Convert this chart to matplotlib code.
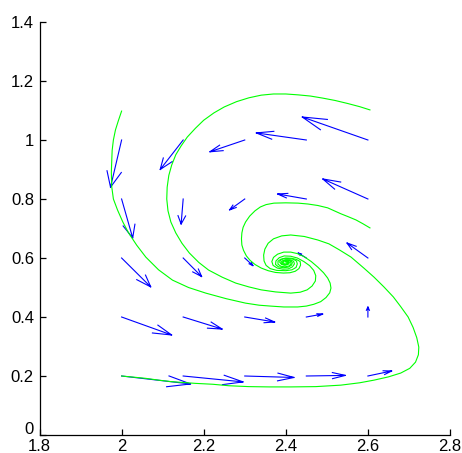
import numpy as np
import matplotlib
matplotlib.use("Agg")
import matplotlib.pyplot as plt
from matplotlib.transforms import ScaledTranslation

plt.rcParams['font.family'] = ['Liberation Sans', 'DejaVu Sans']

# Direction field sampled on a 5x5 grid
grid_x = [2.0, 2.15, 2.3, 2.45, 2.6]
grid_y = [0.2, 0.4, 0.6, 0.8, 1.0]
# rows follow grid_y, columns follow grid_x
field_u = [
    [0.168, 0.146, 0.120, 0.095, 0.058],
    [0.122, 0.095, 0.073, 0.040, 0.000],
    [0.071, 0.045, 0.020, -0.020, -0.051],
    [0.027, -0.005, -0.037, -0.070, -0.110],
    [-0.027, -0.056, -0.085, -0.122, -0.160],
]
field_v = [
    [-0.027, -0.020, -0.005, 0.002, 0.017],
    [-0.061, -0.041, -0.017, 0.010, 0.034],
    [-0.098, -0.063, -0.026, 0.017, 0.051],
    [-0.132, -0.085, -0.037, 0.017, 0.068],
    [-0.160, -0.100, -0.040, 0.024, 0.078],
]

# Trajectories, each spiralling into the equilibrium near (2.4, 0.59)
traj1_x = [2.000, 1.992, 1.985, 1.980, 1.977, 1.976, 1.975, 1.976, 1.980, 1.990,
           2.003, 2.017, 2.037, 2.059, 2.090, 2.124, 2.163, 2.205, 2.255, 2.302,
           2.335, 2.363, 2.395, 2.429, 2.450, 2.468, 2.485, 2.498, 2.507, 2.510,
           2.508, 2.502, 2.492, 2.478, 2.462, 2.444, 2.428, 2.412, 2.395, 2.380,
           2.370, 2.366, 2.369, 2.379, 2.393, 2.406, 2.416, 2.421, 2.419, 2.410,
           2.399, 2.391, 2.388, 2.391, 2.398, 2.405, 2.407, 2.403, 2.398]
traj1_y = [1.098, 1.065, 1.034, 1.000, 0.965, 0.930, 0.890, 0.841, 0.800, 0.763,
           0.722, 0.685, 0.643, 0.603, 0.560, 0.525, 0.500, 0.481, 0.462, 0.447,
           0.440, 0.437, 0.434, 0.434, 0.437, 0.443, 0.452, 0.466, 0.482, 0.498,
           0.515, 0.532, 0.550, 0.569, 0.588, 0.605, 0.615, 0.620, 0.620, 0.613,
           0.602, 0.588, 0.575, 0.566, 0.562, 0.563, 0.570, 0.580, 0.589, 0.594,
           0.594, 0.590, 0.584, 0.578, 0.576, 0.579, 0.585, 0.589, 0.587]

traj2_x = [2.605, 2.580, 2.550, 2.520, 2.490, 2.460, 2.430, 2.400, 2.370, 2.340,
           2.310, 2.280, 2.250, 2.225, 2.200, 2.180, 2.160, 2.145, 2.132, 2.122,
           2.115, 2.111, 2.110, 2.113, 2.120, 2.132, 2.147, 2.165, 2.188, 2.212,
           2.245, 2.278, 2.310, 2.340, 2.375, 2.412, 2.435, 2.452, 2.464, 2.472,
           2.473, 2.468, 2.458, 2.444, 2.428, 2.412, 2.396, 2.384, 2.376, 2.375,
           2.382, 2.394, 2.406, 2.414, 2.416, 2.411, 2.402, 2.394, 2.391, 2.394,
           2.401, 2.405, 2.402]
traj2_y = [1.102, 1.113, 1.124, 1.134, 1.142, 1.149, 1.153, 1.156, 1.156, 1.152,
           1.143, 1.130, 1.112, 1.092, 1.067, 1.040, 1.010, 0.980, 0.950, 0.915,
           0.880, 0.840, 0.800, 0.760, 0.722, 0.685, 0.650, 0.617, 0.585, 0.559,
           0.535, 0.515, 0.502, 0.492, 0.485, 0.481, 0.484, 0.492, 0.505, 0.522,
           0.540, 0.558, 0.574, 0.588, 0.600, 0.606, 0.607, 0.601, 0.590, 0.578,
           0.570, 0.567, 0.569, 0.576, 0.585, 0.591, 0.593, 0.590, 0.584, 0.579,
           0.578, 0.583, 0.587]

traj3_x = [2.000, 2.030, 2.059, 2.090, 2.120, 2.150, 2.180, 2.222, 2.261, 2.310,
           2.360, 2.412, 2.473, 2.534, 2.580, 2.615, 2.650, 2.680, 2.702, 2.716,
           2.723, 2.724, 2.719, 2.710, 2.698, 2.680, 2.662, 2.639, 2.615, 2.590,
           2.559, 2.530, 2.505, 2.478, 2.445, 2.412, 2.390, 2.370, 2.357, 2.349,
           2.346, 2.347, 2.352, 2.362, 2.378, 2.400, 2.415, 2.425, 2.428, 2.426,
           2.418, 2.405, 2.393, 2.387, 2.385, 2.389, 2.397, 2.405, 2.409, 2.406,
           2.400]
traj3_y = [0.200, 0.196, 0.192, 0.186, 0.181, 0.178, 0.175, 0.172, 0.167, 0.164,
           0.163, 0.163, 0.164, 0.169, 0.177, 0.186, 0.197, 0.210, 0.226, 0.247,
           0.272, 0.298, 0.330, 0.365, 0.400, 0.435, 0.468, 0.502, 0.535, 0.566,
           0.603, 0.628, 0.648, 0.661, 0.673, 0.678, 0.675, 0.665, 0.650, 0.630,
           0.610, 0.590, 0.575, 0.564, 0.558, 0.557, 0.560, 0.568, 0.580, 0.590,
           0.596, 0.598, 0.597, 0.592, 0.586, 0.579, 0.576, 0.578, 0.584, 0.589,
           0.589]

traj4_x = [2.605, 2.588, 2.571, 2.552, 2.534, 2.518, 2.502, 2.478, 2.454, 2.430,
           2.400, 2.371, 2.352, 2.338, 2.325, 2.312, 2.302, 2.296, 2.293, 2.292,
           2.293, 2.297, 2.304, 2.313, 2.325, 2.340, 2.357, 2.375, 2.394, 2.410,
           2.423, 2.432, 2.436, 2.435, 2.426, 2.414, 2.400, 2.388, 2.381, 2.381,
           2.388, 2.398, 2.408, 2.413, 2.411, 2.404, 2.396, 2.393, 2.396, 2.402,
           2.404, 2.400]
traj4_y = [0.702, 0.716, 0.729, 0.740, 0.750, 0.760, 0.770, 0.778, 0.783, 0.786,
           0.787, 0.786, 0.781, 0.773, 0.760, 0.742, 0.722, 0.704, 0.685, 0.665,
           0.644, 0.626, 0.607, 0.592, 0.578, 0.566, 0.557, 0.551, 0.549, 0.550,
           0.555, 0.564, 0.576, 0.588, 0.595, 0.599, 0.600, 0.596, 0.589, 0.579,
           0.572, 0.570, 0.573, 0.581, 0.589, 0.592, 0.590, 0.585, 0.580, 0.580,
           0.585, 0.587]

x_ticks = [1.8, 2.0, 2.2, 2.4, 2.6, 2.8]
x_labels = ["1.8", "2", "2.2", "2.4", "2.6", "2.8"]
y_ticks = [0, 0.2, 0.4, 0.6, 0.8, 1.0, 1.2, 1.4]
y_labels = ["0", "0.2", "0.4", "0.6", "0.8", "1", "1.2", "1.4"]

fig = plt.figure(figsize=(4.62, 4.53), dpi=100)
ax = fig.add_axes([39.5 / 462, 18 / 453, 410.5 / 462, 413 / 453])

# arrows: shaft plus two barbs, barbs sized relative to the vector
alpha, beta = 0.33, 0.33
segs_x, segs_y = [], []
for j, yy in enumerate(grid_y):
    for i, xx in enumerate(grid_x):
        u = field_u[j][i]
        v = field_v[j][i]
        tx, ty = xx + u, yy + v
        segs_x += [xx, tx, np.nan]
        segs_y += [yy, ty, np.nan]
        segs_x += [tx - alpha * (u + beta * v), tx, tx - alpha * (u - beta * v), np.nan]
        segs_y += [ty - alpha * (v - beta * u), ty, ty - alpha * (v + beta * u), np.nan]
ax.plot(segs_x, segs_y, color=(0, 0, 1), lw=0.8, solid_joinstyle='miter')

for tx_, ty_ in [(traj1_x, traj1_y), (traj2_x, traj2_y),
                 (traj3_x, traj3_y), (traj4_x, traj4_y)]:
    ax.plot(tx_, ty_, color=(0, 1, 0), lw=0.8, solid_joinstyle='round')

ax.set_xlim(1.8, 2.8)
ax.set_ylim(0, 1.4)
ax.set_xticks(x_ticks)
ax.set_xticklabels(x_labels)
ax.set_yticks(y_ticks)
ax.set_yticklabels(y_labels)
ax.spines['top'].set_visible(False)
ax.spines['right'].set_visible(False)
for s in ('left', 'bottom'):
    ax.spines[s].set_linewidth(0.9)
ax.tick_params(direction='in', length=4, width=0.9, labelsize=12, pad=4,
               colors='black')
ax.tick_params(axis='x', pad=2.8)

# lift the "0" label a little so it clears the "1.8" below it
zero_label = ax.yaxis.get_major_ticks()[0].label1
zero_label.set_transform(zero_label.get_transform() +
                         ScaledTranslation(0, 6.5 / 100, fig.dpi_scale_trans))

fig.savefig("out.png", dpi=100)
